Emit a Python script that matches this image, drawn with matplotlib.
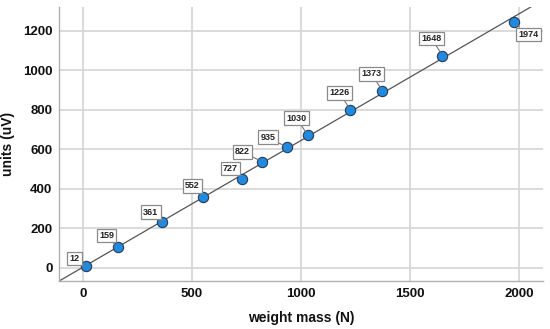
import numpy as np
import matplotlib
matplotlib.use("Agg")
import matplotlib.pyplot as plt

# Data
weight = [12, 159, 361, 552, 727, 822, 935, 1030, 1226, 1373, 1648, 1974]
units = [7, 103, 231, 359, 447, 536, 610, 671, 799, 895, 1074, 1242]
labels = ["12", "159", "361", "552", "727", "822", "935", "1030", "1226", "1373", "1648", "1974"]
# label offsets in pixels (dx, dy) relative to point (screen coords, y up)
offsets = [(-11, 8), (-11, 12), (-11, 10), (-11, 11), (-11, 11), (-20, 10),
           (-19, 10), (-11, 17), (-11, 17), (-11, 17), (-11, 17), (15, -12)]
xticks = [0, 500, 1000, 1500, 2000]
yticks = [0, 200, 400, 600, 800, 1000, 1200]

plt.rcParams['font.family'] = ['Liberation Sans', 'DejaVu Sans']

fig = plt.figure(figsize=(5.5, 3.29), dpi=100)
ax = fig.add_axes([0.108, 0.146, 0.879, 0.833])

ax.set_xlim(-108, 2108)
ax.set_ylim(-67, 1320)

# fit line
slope, intercept = np.polyfit(weight, units, 1)
xs = np.array([-200, 2300])
ax.plot(xs, slope * xs + intercept, color='#555555', lw=0.9, zorder=2)

ax.scatter(weight, units, s=55, color='#1f8ae0', edgecolor='#2b3a55', linewidth=0.8, zorder=3)

px2pt = 0.72
for x, y, lab, (dx, dy) in zip(weight, units, labels, offsets):
    ax.annotate(lab, xy=(x, y), xytext=(dx * px2pt, dy * px2pt), textcoords='offset points',
                ha='center', va='center', fontsize=6.5, fontweight='bold', color='#222222',
                bbox=dict(boxstyle='square,pad=0.25', fc='white', ec='#8a8a8a', lw=0.9),
                arrowprops=dict(arrowstyle='-', color='#777777', lw=0.8, shrinkA=0, shrinkB=3),
                zorder=4)

ax.set_xticks(xticks)
ax.set_yticks(yticks)
ax.set_xticklabels([str(t) for t in xticks], fontsize=9.5, fontweight='bold', color='#111111')
ax.set_yticklabels([str(t) for t in yticks], fontsize=9.5, fontweight='bold', color='#111111')
ax.tick_params(length=0, pad=5)
ax.grid(True, color='#d4d4d4', lw=1.2)
ax.set_axisbelow(True)
for s in ['top', 'right']:
    ax.spines[s].set_visible(False)
for s in ['left', 'bottom']:
    ax.spines[s].set_color('#b0b0b0')
    ax.spines[s].set_linewidth(1.0)

ax.set_xlabel('weight mass (N)', fontsize=10, fontweight='bold', color='#111111', labelpad=8)
ax.set_ylabel('units (uV)', fontsize=10, fontweight='bold', color='#111111', labelpad=6)

fig.savefig('out.png', dpi=100)
